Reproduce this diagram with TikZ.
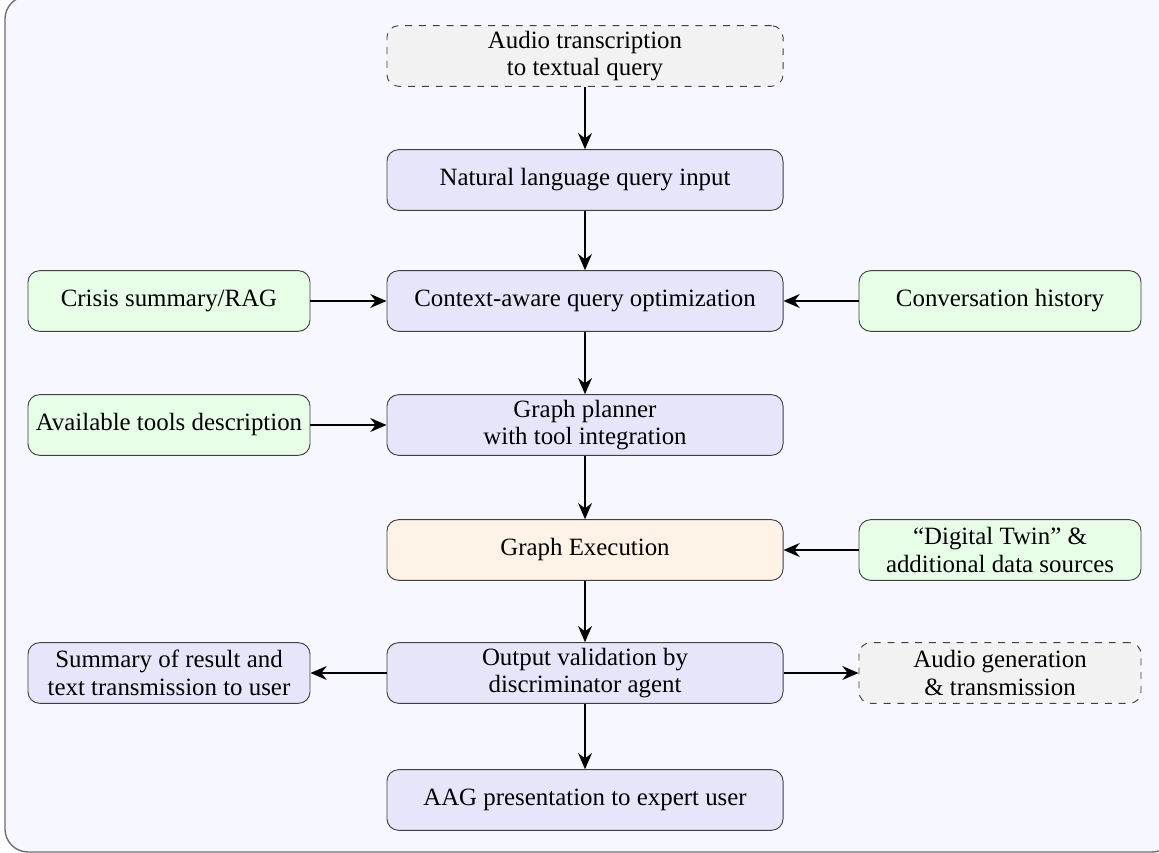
\documentclass[tikz,border=0pt]{standalone}
\usepackage{fontspec}
\setmainfont{Liberation Serif}
\usetikzlibrary{arrows.meta}
\definecolor{mainfill}{RGB}{230,230,250}
\definecolor{ctxfill}{RGB}{230,255,230}
\definecolor{execfill}{RGB}{255,242,230}
\definecolor{optfill}{RGB}{242,242,242}
\definecolor{pagefill}{RGB}{247,247,255}
\definecolor{framecol}{RGB}{110,110,110}
\tikzset{
  box/.style={draw=black!75, rounded corners=5pt, align=center, inner sep=2pt,
    font=\fontsize{10.8}{12}\selectfont},
  mainbox/.style={box, fill=mainfill, minimum width=171.9pt, minimum height=26.3pt},
  sidebox/.style={box, minimum width=122.4pt, minimum height=26.3pt},
  ctxbox/.style={sidebox, fill=ctxfill},
  optbox/.style={dashed, fill=optfill},
  flow/.style={-{Stealth[length=7pt,width=6pt]}, line width=0.85pt}
}
\begin{document}
\begin{tikzpicture}[x=0.434pt, y=-0.434pt]
  \useasboundingbox (0,0) rectangle (1159,853);
  \begin{scope}
    \clip (0,0) rectangle (1159,853);
    \draw[draw=framecol, fill=pagefill, line width=0.6pt, rounded corners=10pt]
      (5,-4) rectangle (1175,852);
  \end{scope}

  % central flow
  \node[mainbox, optbox] (audio) at (585,56) {Audio transcription\\to textual query};
  \node[mainbox] (nl)    at (585,180) {Natural language query input};
  \node[mainbox] (ctx)   at (585,301) {Context-aware query optimization};
  \node[mainbox] (plan)  at (585,425) {Graph planner\\with tool integration};
  \node[mainbox, fill=execfill] (exec) at (585,550) {Graph Execution};
  \node[mainbox] (valid) at (585,673) {Output validation by\\discriminator agent};
  \node[mainbox] (aag)   at (585,800) {AAG presentation to expert user};

  % side inputs and outputs
  \node[ctxbox] (rag)   at (169,301) {Crisis summary/RAG};
  \node[ctxbox] (hist)  at (1000,301) {Conversation history};
  \node[ctxbox] (tools) at (169,425) {Available tools description};
  \node[ctxbox] (twin)  at (1000,550) {``Digital Twin'' \&\\additional data sources};
  \node[sidebox, fill=mainfill] (summ) at (169,673) {Summary of result and\\text transmission to user};
  \node[sidebox, optbox] (agen) at (1000,673) {Audio generation\\\& transmission};

  % connectors
  \draw[flow] (audio) -- (nl);
  \draw[flow] (nl) -- (ctx);
  \draw[flow] (ctx) -- (plan);
  \draw[flow] (plan) -- (exec);
  \draw[flow] (exec) -- (valid);
  \draw[flow] (valid) -- (aag);
  \draw[flow] (rag) -- (ctx);
  \draw[flow] (hist) -- (ctx);
  \draw[flow] (tools) -- (plan);
  \draw[flow] (twin) -- (exec);
  \draw[flow] (valid) -- (summ);
  \draw[flow] (valid) -- (agen);
\end{tikzpicture}
\end{document}
